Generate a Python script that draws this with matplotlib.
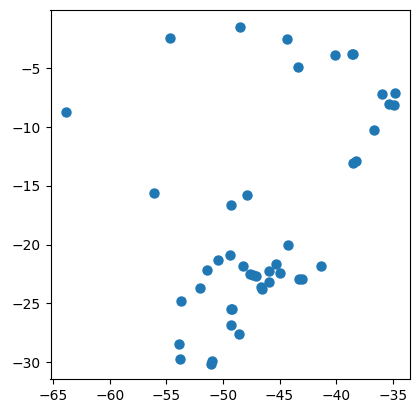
import matplotlib

matplotlib.use("Agg")
import matplotlib.pyplot as plt

# longitude / latitude
lon = [-63.88, -56.1, -54.7, -53.88, -53.8, -53.7, -52.07, -51.41, -51.08, -50.93,
       -50.43, -49.37, -49.3, -49.28, -49.25, -49.17, -48.57, -48.5, -48.22, -47.9,
       -47.63, -47.34, -47.04, -46.63, -46.54, -45.92, -45.92, -45.3, -44.95, -44.33,
       -44.24, -43.35, -43.32, -43.03, -41.32, -40.08, -38.62, -38.54, -38.51, -38.25,
       -36.63, -35.92, -35.3, -34.88, -34.82]
lat = [-8.75, -15.6, -2.42, -28.42, -29.7, -24.76, -23.65, -22.12, -30.13, -29.93,
       -21.27, -20.84, -16.65, -26.8, -25.44, -25.44, -27.57, -1.48, -21.78, -15.8,
       -22.46, -22.58, -22.66, -23.57, -23.77, -23.2, -22.2, -21.67, -22.38, -2.53,
       -19.99, -4.91, -22.89, -22.89, -21.78, -3.89, -3.8, -3.8, -13.04, -12.92,
       -10.28, -7.21, -8.02, -8.1, -7.13]

fig, ax = plt.subplots(figsize=(4.19, 4.13), dpi=100)
ax.scatter(lon, lat, s=42)
ax.set_xlim(-65.25, -33.44)
ax.set_ylim(-31.45, -0.06)
ax.set_xticks([-65, -60, -55, -50, -45, -40, -35])
ax.set_yticks([-30, -25, -20, -15, -10, -5])
fig.subplots_adjust(left=50.5 / 419, right=410.3 / 419, bottom=1 - 379.3 / 413, top=1 - 10.3 / 413)
fig.savefig("out.png", dpi=100)
